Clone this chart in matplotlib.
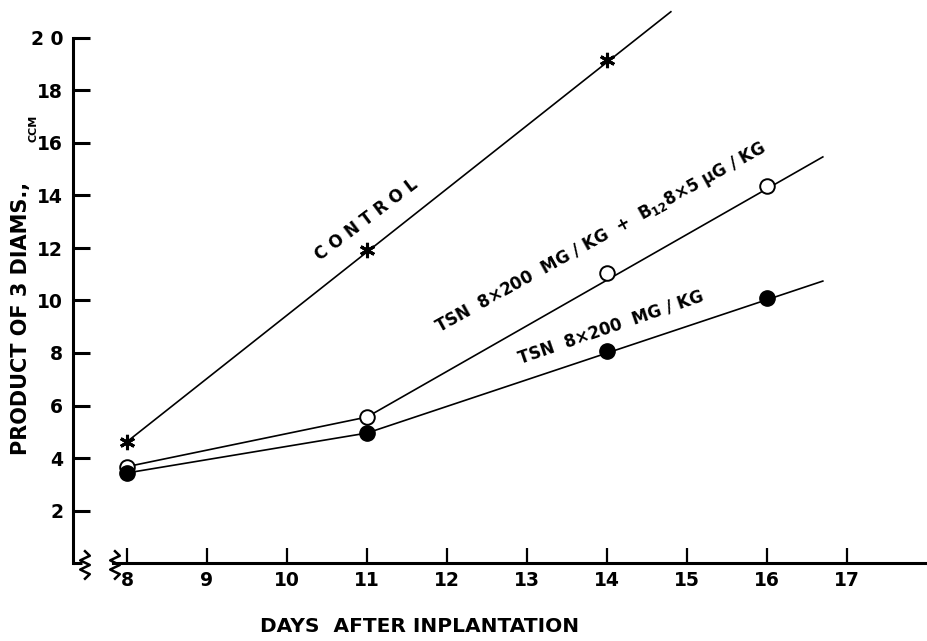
import numpy as np
import matplotlib
matplotlib.use('Agg')
import matplotlib.pyplot as plt

plt.rcParams['font.family'] = ['DejaVu Sans']
plt.rcParams['font.weight'] = 'bold'
plt.rcParams['mathtext.default'] = 'bf'

# measured tumour size (product of 3 diameters, ccm) by day after implantation
control_days = [8, 11, 14]
control = [4.62, 11.92, 19.16]
tsn_days = [8, 11, 14, 16]
tsn_b12 = [3.67, 5.56, 11.05, 14.36]
tsn = [3.43, 4.95, 8.08, 10.1]

# drawn growth lines (joined early points, fitted trend after day 11)
control_line_days = [8, 14.8]
control_line = [4.62, 21.0]
tsn_b12_line_days = [8, 11, 16.7]
tsn_b12_line = [3.67, 5.56, 15.47]
tsn_line_days = [8, 11, 16.7]
tsn_line = [3.43, 4.95, 10.74]

xticks = list(range(8, 18))
yticks = list(range(2, 22, 2))
ytick_labels = ['2', '4', '6', '8', '10', '12', '14', '16', '18', '2 0']

fig = plt.figure(figsize=(9.28, 6.41), dpi=100)
ax = fig.add_axes([73 / 928, 1 - 563 / 641, 853 / 928, 561.75 / 641])
ax.set_xlim(7.325, 17.99)
ax.set_ylim(0, 21.4)

lw = 1.2
ax.plot(control_line_days, control_line, color='k', lw=lw)
ax.plot(tsn_b12_line_days, tsn_b12_line, color='k', lw=lw)
ax.plot(tsn_line_days, tsn_line, color='k', lw=lw)

ax.plot(control_days, control, ls='none', marker=(6, 2, 0), ms=11,
        mew=2.2, color='k', zorder=3)
ax.plot(tsn_days, tsn_b12, ls='none', marker='o', ms=10.5, mew=1.4,
        mfc='white', mec='k', zorder=3)
ax.plot(tsn_days, tsn, ls='none', marker='o', ms=11, color='k', zorder=4)

# axes
for side in ['top', 'right']:
    ax.spines[side].set_visible(False)
ax.spines['left'].set_linewidth(2.2)
ax.spines['bottom'].set_linewidth(2.2)
ax.spines['left'].set_bounds(0, 20)
ax.spines['bottom'].set_bounds(7.83, 17.99)

ax.set_xticks(xticks)
ax.set_xticklabels([str(d) for d in xticks])
ax.set_yticks(yticks)
ax.set_yticklabels(ytick_labels)
ax.tick_params(axis='y', direction='in', length=12, width=2.2, pad=7,
               labelsize=13.5)
ax.tick_params(axis='x', direction='in', length=11, width=1.6, pad=6,
               labelsize=13.5)

# broken axis stub and break marks
ax.plot([7.325, 7.44], [0, 0], color='k', lw=2.2, clip_on=False,
        solid_capstyle='butt')
zig = np.array([0, 1, -1, 1, -1, 1, 0])
zy = np.linspace(0.45, -0.6, len(zig))
for xc in [7.475, 7.85]:
    ax.plot(xc + 0.06 * zig, zy, color='k', lw=1.8, clip_on=False)

# line labels
ax.text(10.99, 13.07, 'C O N T R O L', rotation=37, ha='center',
        va='center', rotation_mode='anchor', fontsize=12)
ax.text(13.93, 12.38, 'TSN  8×200  MG / KG  +  B$_{12}$8×5 μG / KG',
        rotation=29, ha='center', va='center', rotation_mode='anchor',
        fontsize=12)
ax.text(14.05, 8.99, 'TSN  8×200  MG / KG', rotation=19, ha='center',
        va='center', rotation_mode='anchor', fontsize=12)

fig.text(420 / 928, 1 - 627 / 641, 'DAYS  AFTER INPLANTATION', ha='center',
         va='center', fontsize=14.5, fontweight='bold')
fig.text(21 / 928, 1 - 318 / 641, 'PRODUCT OF 3 DIAMS.,', rotation=90,
         ha='center', va='center', fontsize=15, fontweight='bold')
fig.text(34 / 928, 1 - 128 / 641, 'CCM', rotation=90, ha='center',
         va='center', fontsize=8, fontweight='bold')

fig.savefig('out.png', dpi=100)
